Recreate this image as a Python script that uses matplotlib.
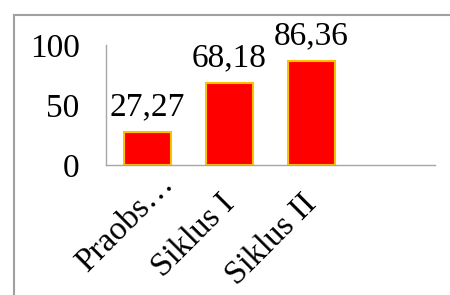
import matplotlib.pyplot as plt
import matplotlib.transforms as mtransforms
from matplotlib.lines import Line2D

categories = ['Praobs…', 'Siklus I', 'Siklus II']
values = [27.27, 68.18, 86.36]
value_labels = ['27,27', '68,18', '86,36']
yticks = [0, 50, 100]

plt.rcParams['font.family'] = ['Liberation Serif', 'DejaVu Serif']

fig = plt.figure(figsize=(4.5, 2.95), dpi=100)
ax = fig.add_axes([106 / 450, 130 / 295, 329 / 450, 120 / 295])

x = list(range(len(categories)))
bars = ax.bar(x, values, width=0.57, color='#ff0000', edgecolor='#ffc000', linewidth=1.5)

for b, lab in zip(bars, value_labels):
    ax.annotate(lab, (b.get_x() + b.get_width() / 2, b.get_height()),
                xytext=(0, 12), textcoords='offset points',
                ha='center', va='baseline', fontsize=24)

ax.set_xlim(-0.5, 3.5)
ax.set_ylim(0, 100)
ax.set_yticks(yticks)
ax.set_yticklabels([str(t) for t in yticks], fontsize=24)
ax.set_xticks(x)
ax.set_xticklabels(categories, fontsize=24, rotation=45, ha='right',
                   va='baseline', rotation_mode='anchor')
ax.tick_params(axis='both', length=0)
ax.tick_params(axis='y', pad=19)
ax.tick_params(axis='x', pad=29)

# nudge rotated labels a little right; the truncated first one sits higher
for i, t in enumerate(ax.get_xticklabels()):
    dx, dy = (28, 20) if i == 0 else (6, 0)
    t.set_transform(t.get_transform() + mtransforms.ScaledTranslation(
        dx / 100, dy / 100, fig.dpi_scale_trans))

for s in ['top', 'right']:
    ax.spines[s].set_visible(False)
for s in ['left', 'bottom']:
    ax.spines[s].set_color('#a6a6a6')
    ax.spines[s].set_linewidth(1)

# outer chart frame (only top and left visible)
fig.add_artist(Line2D([14 / 450, 14 / 450], [0, 1 - 15 / 295],
                      transform=fig.transFigure, color='#a0a0a0', lw=1.5))
fig.add_artist(Line2D([14 / 450, 1], [1 - 15 / 295, 1 - 15 / 295],
                      transform=fig.transFigure, color='#a0a0a0', lw=1.5))

fig.savefig('out.png', dpi=100)
